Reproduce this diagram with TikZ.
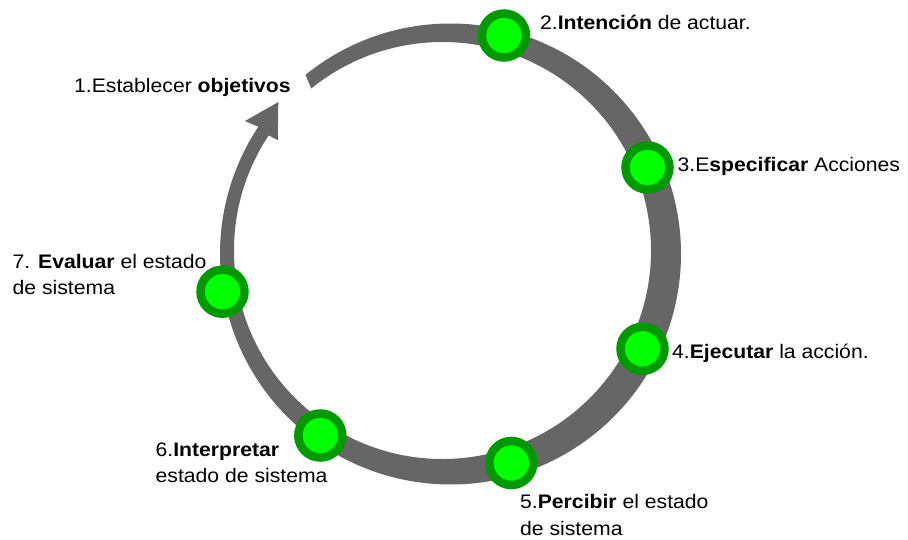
\documentclass[tikz,border=0pt]{standalone}
\usepackage{fontspec}
\setmainfont{Liberation Sans}[FakeStretch=1.08]
\definecolor{ringgray}{HTML}{666666}
\definecolor{stagedark}{HTML}{009900}
\definecolor{stagelime}{HTML}{00FF00}
\begin{document}
\begin{tikzpicture}[x=1pt, y=1pt,
  stage/.style = {circle, draw=stagedark, fill=stagelime, line width=8.5pt,
                  minimum size=44pt, inner sep=0pt},
  caption/.style = {anchor=base west, inner sep=0pt, align=left,
                    font=\fontsize{19.6}{26.7}\selectfont}]
\useasboundingbox (0,0) rectangle (908,539);

% the cycle, wider on the right, arrow head at the upper left
\begin{scope}[shift={(446.5,286)}]
\fill[ringgray] ([shift={(4,-1)}]129:230.5)
    arc[start angle=129, end angle=-213.5, radius=230.5]
  -- (146.8:241) -- (138.1:226) -- (146.2:203)
  -- ([shift={(-4,2.5)}]146.5:208.5)
    arc[start angle=-213.5, end angle=129, radius=208.5] -- cycle;
\end{scope}

\node[stage] (s2) at (504,503.5) {};
\node[stage] (s3) at (647.5,371.5) {};
\node[stage] (s4) at (642.5,190.2) {};
\node[stage] (s5) at (511.3,76) {};
\node[stage] (s6) at (320.3,103.5) {};
\node[stage] (s7) at (222.5,247.3) {};

% two line captions sit on the baseline of their last line
\node[caption] (l1) at (74,446.7) {1.Establecer \textbf{objetivos}};
\node[caption] (l2) at (540,509.7) {2.\textbf{Intención} de actuar.};
\node[caption] (l3) at (677.5,367.3) {3.E\textbf{specificar} Acciones};
\node[caption] (l4) at (672,180.7) {4.\textbf{Ejecutar} la acción.};
\node[caption] (l5) at (520,4) {5.\textbf{Percibir} el estado\\de sistema};
\node[caption] (l6) at (155.5,56.3) {6.\textbf{Interpretar}\\estado de sistema};
\node[caption] (l7) at (12.5,244) {7. \textbf{Evaluar} el estado\\de sistema};
\end{tikzpicture}
\end{document}
